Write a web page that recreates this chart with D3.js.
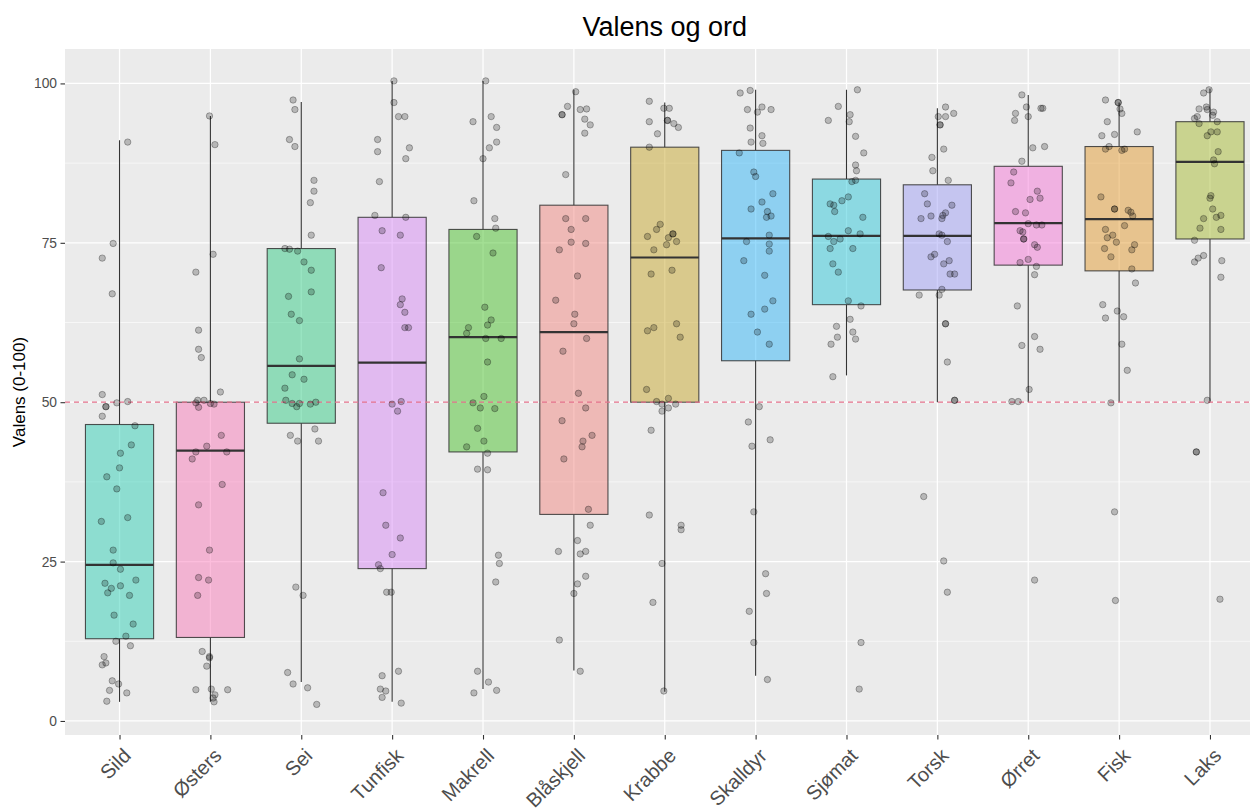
<!DOCTYPE html>
<html>
<head>
<meta charset="utf-8">
<script src="https://cdn.jsdelivr.net/npm/d3@7"></script>
<style>
  html, body { margin: 0; padding: 0; background: #ffffff; }
  svg { display: block; }
</style>
</head>
<body>
<svg id="chart" width="1250" height="811"></svg>
<script>
// ---------------- DATA ----------------
const categories = ["Sild", "Østers", "Sei", "Tunfisk", "Makrell", "Blåskjell", "Krabbe", "Skalldyr", "Sjømat", "Torsk", "Ørret", "Fisk", "Laks"];
const q1Values     = [12.9, 13.1, 46.7, 23.9, 42.2, 32.4, 50.0, 56.5, 65.3, 67.6, 71.5, 70.6, 75.6];
const medianValues = [24.5, 42.4, 55.7, 56.2, 60.2, 61.0, 72.7, 75.7, 76.1, 76.1, 78.1, 78.7, 87.7];
const q3Values     = [46.5, 50.0, 74.1, 79.0, 77.1, 80.9, 90.0, 89.5, 85.0, 84.1, 87.0, 90.1, 94.0];
const whiskerLow   = [3.0, 3.0, 6.1, 3.0, 5.0, 7.9, 4.6, 7.1, 54.2, 50.0, 50.0, 50.0, 50.1];
const whiskerHigh  = [91.1, 94.9, 97.1, 100.4, 100.4, 99.0, 97.0, 99.0, 99.0, 96.1, 98.2, 97.0, 99.2];
const referenceValue = 50;
const yTicks = [0, 25, 50, 75, 100];
const yMinorTicks = [12.5, 37.5, 62.5, 87.5];

// jittered observations: [jitter offset (category units), value]
const ptsSild = [[.09,90.8],[-.07,74.9],[-.19,72.6],[-.08,67.0],[-.19,51.2],[-.15,49.3],[-.15,49.3],[-.03,49.9],[.09,50.1],[-.19,47.8],[.17,46.3],[.13,43.3],[.01,42.0],[.00,39.7],[-.14,38.3],[-.03,36.4],[-.20,31.3],[.09,31.9],[-.07,26.8],[-.07,24.8],[.01,23.8],[.18,22.1],[-.16,21.6],[-.09,20.8],[.01,21.2],[-.13,20.1],[.11,19.7],[-.06,16.6],[.15,15.2],[.07,13.3],[-.04,12.5],[.12,11.8],[-.17,10.1],[-.19,8.8],[-.15,9.1],[-.08,6.3],[-.01,5.8],[-.11,4.8],[.08,4.4],[-.14,3.1]];
const ptsOsters = [[-.01,94.9],[.05,90.4],[.03,73.2],[-.16,70.4],[-.13,61.3],[-.13,58.3],[-.10,57.0],[.11,51.6],[-.14,50.3],[-.07,50.3],[-.16,49.9],[-.13,49.2],[.00,49.8],[.04,49.7],[.12,44.8],[-.04,43.1],[-.16,42.2],[.18,42.2],[-.20,41.1],[.13,37.1],[-.13,33.9],[-.01,26.8],[-.13,22.5],[-.02,22.1],[-.14,19.7],[-.09,10.9],[-.01,10.1],[-.01,9.9],[-.04,8.6],[-.16,4.9],[.01,5.0],[.19,4.9],[.05,4.1],[.03,3.6],[.04,3.0]];
const ptsSei = [[-.09,97.4],[-.07,95.9],[-.13,91.2],[-.07,90.1],[.14,84.8],[.14,83.1],[.10,81.3],[.11,76.2],[-.18,74.1],[-.13,74.0],[-.04,73.7],[.03,72.0],[.11,70.7],[.11,67.3],[-.14,66.6],[-.11,63.8],[-.02,62.8],[-.02,56.8],[-.10,54.3],[.03,53.6],[-.18,52.2],[-.17,50.3],[-.10,49.8],[-.05,49.3],[-.02,49.8],[.10,49.7],[.16,50.0],[-.12,44.8],[-.04,43.9],[.15,45.8],[.19,43.9],[-.06,21.0],[.02,19.7],[-.15,7.6],[-.09,5.8],[.07,5.2],[.17,2.6]];
const ptsTunfisk = [[-.16,91.2],[-.16,89.3],[-.14,84.6],[-.19,79.3],[-.11,76.9],[-.12,71.1],[.02,100.4],[.02,97.0],[.07,94.8],[.14,94.8],[.19,89.9],[.15,88.2],[.15,79.0],[.09,76.2],[.11,66.2],[.09,65.3],[.14,64.1],[.14,61.7],[.18,61.7],[.00,49.7],[.10,50.1],[.06,48.6],[-.10,35.8],[-.07,30.7],[.09,28.7],[.00,26.1],[-.13,23.9],[-.15,24.5],[-.06,20.2],[-.01,20.2],[.07,7.8],[-.11,7.1],[-.13,5.0],[-.07,4.7],[-.11,3.7],[.10,2.8]];
const ptsMakrell = [[.03,100.4],[-.11,94.0],[.09,94.8],[.15,93.1],[.15,90.8],[.07,89.9],[.00,88.2],[-.10,81.6],[.13,78.8],[.14,77.3],[-.07,76.0],[.11,73.4],[.02,64.9],[.09,62.9],[.05,62.1],[-.16,61.7],[-.18,60.8],[.03,60.0],[.20,60.0],[.05,56.3],[.01,50.9],[-.11,49.9],[-.03,49.1],[.13,49.0],[-.06,45.9],[.01,43.9],[-.18,43.0],[.05,42.0],[-.06,39.5],[.05,39.4],[.17,26.0],[.18,24.7],[.14,21.8],[-.06,7.8],[.06,6.1],[-.10,4.4],[.15,4.8]];
const ptsBlaskjell = [[.02,98.7],[-.07,96.4],[-.13,95.1],[-.13,95.1],[.07,95.9],[.14,96.0],[.12,94.4],[.18,93.5],[.12,92.2],[-.09,85.7],[-.09,78.8],[.13,78.8],[-.03,77.1],[-.03,75.1],[.13,74.9],[-.16,73.9],[.04,69.8],[-.20,66.0],[.01,63.8],[.00,62.3],[.14,60.0],[-.12,58.0],[.05,51.4],[.13,49.1],[-.13,47.1],[.20,44.8],[.10,43.9],[.09,43.0],[-.11,41.1],[.16,33.2],[.18,30.7],[.04,28.3],[-.17,26.6],[.13,26.6],[.07,26.2],[.13,22.7],[.04,21.5],[.00,20.0],[-.16,12.7],[.07,7.8]];
const ptsKrabbe = [[-.17,97.2],[-.01,96.1],[.05,96.1],[.03,94.2],[.03,94.2],[-.17,94.0],[.10,93.7],[.15,93.1],[-.08,92.1],[-.17,90.0],[-.05,77.9],[-.09,77.1],[-.19,76.0],[.09,76.4],[.09,76.4],[.04,75.8],[.13,75.2],[.02,74.7],[-.12,73.9],[-.15,70.1],[.08,70.7],[-.19,61.2],[-.12,61.7],[.13,62.3],[.17,60.2],[-.20,52.0],[.04,50.6],[-.09,50.1],[-.03,49.7],[-.03,48.6],[.04,49.1],[.12,49.7],[-.15,45.6],[-.17,32.3],[.18,30.7],[.18,30.0],[-.03,24.7],[-.13,18.6],[-.01,4.7]];
const ptsSkalldyr = [[-.17,98.5],[-.06,98.9],[-.09,95.9],[.02,95.5],[.07,96.3],[.17,95.9],[-.06,93.0],[.07,91.8],[-.05,90.8],[.08,90.6],[-.18,89.1],[-.02,86.1],[.00,85.4],[.19,82.7],[.07,81.4],[-.05,80.3],[.13,79.9],[.17,79.2],[.12,79.0],[.15,76.2],[-.10,75.2],[.15,74.8],[.15,73.7],[-.13,72.2],[.10,69.9],[.19,65.9],[.10,64.6],[-.05,63.8],[.02,61.0],[.15,59.1],[.04,49.3],[-.08,46.9],[.16,44.1],[-.04,43.1],[-.02,32.8],[.11,23.1],[.12,20.0],[-.07,17.2],[-.02,12.3],[.13,6.5]];
const ptsSjomat = [[.12,99.0],[-.09,96.4],[.04,95.1],[-.20,94.2],[.03,94.0],[.10,91.7],[.19,89.1],[.10,87.2],[.11,86.3],[.06,84.6],[.10,84.8],[.02,82.2],[-.05,81.6],[-.18,81.1],[-.14,80.9],[-.13,79.9],[.18,79.0],[.02,76.9],[.15,76.4],[-.20,76.0],[-.14,75.2],[-.07,75.6],[-.18,74.1],[.07,74.1],[-.15,71.7],[-.09,70.4],[.02,65.9],[.16,65.1],[.04,63.0],[-.11,61.9],[.07,61.0],[-.10,60.2],[.10,59.9],[-.17,59.1],[-.15,54.0],[.16,12.3],[.14,5.0]];
const ptsTorsk = [[.09,96.3],[.01,94.8],[.09,94.8],[.18,95.3],[.03,93.5],[.03,93.5],[.07,89.7],[-.06,88.4],[-.05,86.3],[.12,84.8],[-.14,82.7],[-.11,81.1],[.16,80.9],[.09,79.7],[.06,79.3],[-.07,79.2],[-.18,78.8],[.05,78.8],[.02,76.4],[.05,76.2],[.11,75.2],[-.03,73.2],[-.07,72.8],[.13,72.2],[.07,71.7],[.14,70.1],[.19,70.1],[.05,67.7],[-.20,66.8],[.02,66.8],[.09,62.3],[.09,62.3],[.11,56.3],[.19,50.3],[.19,50.3],[-.15,35.2],[.07,25.1],[.11,20.2]];
const ptsOrret = [[-.07,98.2],[-.14,95.3],[-.02,96.3],[-.15,94.2],[.00,94.8],[.14,96.1],[.16,96.1],[.05,89.9],[.18,90.1],[-.07,87.8],[-.16,86.1],[-.19,84.4],[.10,83.1],[.02,81.8],[.13,82.0],[-.14,79.9],[-.03,79.7],[.00,78.0],[.09,77.8],[.15,77.8],[-.09,76.9],[-.06,76.7],[-.05,75.6],[-.05,75.6],[.07,74.7],[.10,74.3],[.00,72.4],[-.09,71.9],[.09,71.3],[.07,70.0],[-.12,65.1],[.07,60.3],[-.07,58.9],[.13,58.3],[.01,52.0],[-.18,50.1],[-.11,50.1],[.07,22.1]];
const ptsFisk = [[-.15,97.4],[-.01,97.0],[-.01,97.0],[.01,96.0],[.03,95.3],[-.13,94.0],[-.19,91.8],[-.05,92.0],[.20,92.4],[-.11,90.1],[-.15,89.7],[.03,89.5],[.06,89.7],[-.20,82.2],[-.05,80.3],[-.05,80.3],[.10,80.1],[.13,79.8],[.15,79.2],[.06,77.7],[-.15,77.1],[-.07,76.2],[-.13,75.8],[-.03,75.1],[.17,74.7],[-.16,74.1],[.14,73.9],[-.09,72.8],[.14,70.9],[.18,68.7],[-.18,65.3],[-.15,63.2],[-.02,64.3],[.05,63.4],[.03,59.1],[.09,55.0],[-.09,49.9],[-.05,32.8],[-.04,18.9]];
const ptsLaks = [[-.01,99.0],[-.07,98.5],[-.12,96.0],[-.04,96.3],[-.03,95.9],[.04,95.5],[.03,95.0],[-.17,94.5],[-.14,94.8],[-.12,93.7],[.08,94.0],[.01,92.4],[.08,92.4],[-.03,91.8],[.09,89.3],[.04,88.0],[.05,87.4],[.01,82.4],[.00,82.0],[.03,80.3],[-.07,78.8],[.07,79.0],[.12,79.3],[-.11,77.3],[.12,77.1],[-.17,75.4],[-.17,72.0],[-.13,72.6],[-.07,73.0],[.13,72.2],[.12,69.6],[-.03,50.3],[-.15,42.2],[-.15,42.2],[.11,19.1]];
const pointSets = [ptsSild, ptsOsters, ptsSei, ptsTunfisk, ptsMakrell, ptsBlaskjell, ptsKrabbe, ptsSkalldyr, ptsSjomat, ptsTorsk, ptsOrret, ptsFisk, ptsLaks];

// fill colours (drawn at 50% opacity)
const palette = ["#2FCFB5", "#F97BB9", "#33CB85", "#D789F5", "#49C12B", "#F18781", "#C7A72D", "#31B5F7", "#2DC7D9", "#9F9FF5", "#F577D7", "#E39B31", "#A7BB33"];

// ---------------- LAYOUT ----------------
const W = 1250, H = 811;
const panel = { left: 65, right: 1264.5, top: 49, bottom: 735 };
const svg = d3.select("#chart");
const FONT = "'Liberation Sans', Arial, Helvetica, sans-serif";

const x = d3.scaleLinear().domain([0.4, categories.length + 0.6]).range([panel.left, panel.right]);
const y = d3.scaleLinear().domain([-2.2, 105.4]).range([panel.bottom, panel.top]);

const clip = svg.append("defs").append("clipPath").attr("id", "panelClip")
  .append("rect").attr("x", panel.left).attr("y", panel.top)
  .attr("width", panel.right - panel.left).attr("height", panel.bottom - panel.top);

// panel background
svg.append("rect")
  .attr("x", panel.left).attr("y", panel.top)
  .attr("width", panel.right - panel.left).attr("height", panel.bottom - panel.top)
  .attr("fill", "#EBEBEB");

const g = svg.append("g").attr("clip-path", "url(#panelClip)");

// minor grid
g.selectAll("line.minor").data(yMinorTicks).enter().append("line")
  .attr("x1", panel.left).attr("x2", panel.right)
  .attr("y1", d => y(d)).attr("y2", d => y(d))
  .attr("stroke", "#FFFFFF").attr("stroke-width", 0.6);
// major grid
g.selectAll("line.majorY").data(yTicks).enter().append("line")
  .attr("x1", panel.left).attr("x2", panel.right)
  .attr("y1", d => y(d)).attr("y2", d => y(d))
  .attr("stroke", "#FFFFFF").attr("stroke-width", 1.25);
g.selectAll("line.majorX").data(categories).enter().append("line")
  .attr("x1", (d, i) => x(i + 1)).attr("x2", (d, i) => x(i + 1))
  .attr("y1", panel.top).attr("y2", panel.bottom)
  .attr("stroke", "#FFFFFF").attr("stroke-width", 1.25);

// boxplots
const boxW = 0.75;
const boxes = g.selectAll("g.box").data(categories).enter().append("g");
boxes.append("line")
  .attr("x1", (d, i) => x(i + 1)).attr("x2", (d, i) => x(i + 1))
  .attr("y1", (d, i) => y(whiskerHigh[i])).attr("y2", (d, i) => y(q3Values[i]))
  .attr("stroke", "#333333").attr("stroke-width", 1.1);
boxes.append("line")
  .attr("x1", (d, i) => x(i + 1)).attr("x2", (d, i) => x(i + 1))
  .attr("y1", (d, i) => y(q1Values[i])).attr("y2", (d, i) => y(whiskerLow[i]))
  .attr("stroke", "#333333").attr("stroke-width", 1.1);
boxes.append("rect")
  .attr("x", (d, i) => x(i + 1 - boxW / 2))
  .attr("width", (d, i) => x(i + 1 + boxW / 2) - x(i + 1 - boxW / 2))
  .attr("y", (d, i) => y(q3Values[i]))
  .attr("height", (d, i) => y(q1Values[i]) - y(q3Values[i]))
  .attr("fill", (d, i) => palette[i]).attr("fill-opacity", 0.5)
  .attr("stroke", "#333333").attr("stroke-opacity", 0.85).attr("stroke-width", 1.1);
boxes.append("line")
  .attr("x1", (d, i) => x(i + 1 - boxW / 2)).attr("x2", (d, i) => x(i + 1 + boxW / 2))
  .attr("y1", (d, i) => y(medianValues[i])).attr("y2", (d, i) => y(medianValues[i]))
  .attr("stroke", "#333333").attr("stroke-width", 2.2);

// reference line
g.append("line")
  .attr("x1", panel.left).attr("x2", panel.right)
  .attr("y1", y(referenceValue)).attr("y2", y(referenceValue))
  .attr("stroke", "#E2708A").attr("stroke-width", 1.3)
  .attr("stroke-dasharray", "5,4");

// jittered points
pointSets.forEach((pts, i) => {
  g.selectAll(null).data(pts).enter().append("circle")
    .attr("cx", d => x(i + 1 + d[0]))
    .attr("cy", d => y(d[1]))
    .attr("r", 3.2)
    .attr("fill", "rgba(0,0,0,0.22)")
    .attr("stroke", "rgba(0,0,0,0.32)")
    .attr("stroke-width", 0.9);
});

// y axis
const yAxis = svg.append("g").attr("transform", `translate(${panel.left},0)`)
  .call(d3.axisLeft(y).tickValues(yTicks).tickSize(4.5).tickPadding(3.5));
yAxis.select(".domain").remove();
yAxis.selectAll(".tick line").attr("stroke", "#333333").attr("stroke-width", 1.1);
yAxis.selectAll(".tick text").attr("fill", "#4D4D4D").style("font-family", FONT).style("font-size", "13.8px");

// x axis
const xAxis = svg.append("g").attr("transform", `translate(0,${panel.bottom})`)
  .call(d3.axisBottom(x).tickValues(d3.range(1, categories.length + 1))
    .tickFormat(d => categories[d - 1]).tickSize(4.5));
xAxis.select(".domain").remove();
xAxis.selectAll(".tick line").attr("stroke", "#333333").attr("stroke-width", 1.1);
xAxis.selectAll(".tick text")
  .attr("fill", "#4D4D4D")
  .style("font-family", FONT).style("font-size", "20px")
  .attr("text-anchor", "end")
  .attr("x", 12).attr("y", 22).attr("dy", 0)
  .attr("transform", "rotate(-45, 12, 22)");

// title
svg.append("text")
  .attr("x", (panel.left + panel.right) / 2).attr("y", 36)
  .attr("text-anchor", "middle")
  .style("font-family", FONT).style("font-size", "27px").attr("fill", "#000000")
  .text("Valens og ord");

// y label
svg.append("text")
  .attr("transform", `translate(25,${(panel.top + panel.bottom) / 2}) rotate(-90)`)
  .attr("text-anchor", "middle")
  .style("font-family", FONT).style("font-size", "17px").attr("fill", "#000000")
  .text("Valens (0-100)");
</script>
</body>
</html>
